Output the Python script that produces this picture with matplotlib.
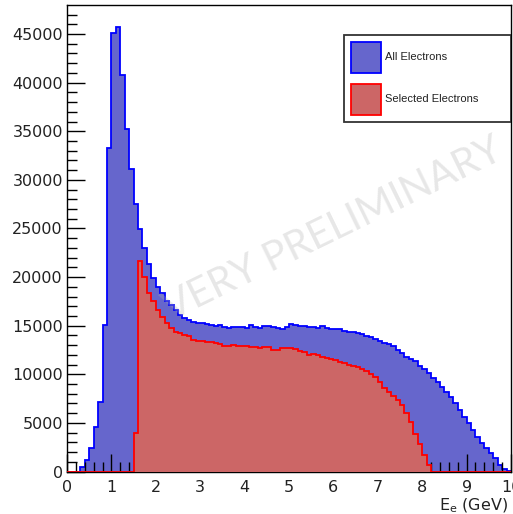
import numpy as np
import matplotlib.pyplot as plt
from matplotlib.patches import Rectangle

# electron energy spectrum, 100 bins of 0.1 GeV between 0 and 10 GeV
e_lo, e_hi, n_bins = 0.0, 10.0, 100

all_electrons = [0, 0, 0, 500, 1200, 2400, 4600, 7100, 15100, 33300,
                 45100, 45700, 40800, 35200, 31100, 27500, 24900, 23000, 21300, 19900,
                 19000, 18400, 17500, 17100, 16600, 16100, 15800, 15600, 15400, 15300,
                 15300, 15200, 15100, 15000, 15100, 14900, 14800, 14900, 14900, 14900,
                 14800, 15100, 14900, 14800, 15000, 15000, 14900, 14800, 14700, 14900,
                 15200, 15100, 15000, 15000, 14900, 14900, 14800, 15000, 14800, 14700,
                 14700, 14700, 14500, 14400, 14300, 14200, 14100, 13900, 13800, 13600,
                 13400, 13200, 13100, 12900, 12500, 12200, 11800, 11600, 11400, 10900,
                 10500, 10100, 9600, 9200, 8700, 8200, 7700, 7000, 6300, 5600,
                 5000, 4300, 3600, 2900, 2400, 1900, 1400, 700, 300, 100]

selected_electrons = [0, 0, 0, 0, 0, 0, 0, 0, 0, 0,
                      0, 0, 0, 0, 0, 4000, 21700, 20000, 18400, 17500,
                      16600, 15900, 15300, 14800, 14300, 14200, 14000, 13900, 13500, 13400,
                      13400, 13300, 13300, 13200, 13100, 12900, 12900, 13000, 12900, 12900,
                      12900, 12800, 12800, 12700, 12800, 12800, 12500, 12500, 12700, 12700,
                      12700, 12600, 12400, 12300, 12000, 12100, 12000, 11800, 11700, 11600,
                      11500, 11300, 11200, 11000, 10900, 10700, 10500, 10300, 10000, 9700,
                      9200, 8600, 8200, 7800, 7400, 6800, 6000, 5100, 3900, 2800,
                      1700, 700, 0, 0, 0, 0, 0, 0, 0, 0,
                      0, 0, 0, 0, 0, 0, 0, 0, 0, 0]

labels = ['All Electrons', 'Selected Electrons']
fill_colors = ['#6666cc', '#cc6666']
line_colors = ['#0000ff', '#ff0000']

edges = np.linspace(e_lo, e_hi, n_bins + 1)

fig = plt.figure(figsize=(5.13, 5.14), dpi=100)
ax = fig.add_axes([67 / 513, 42.5 / 514, 444 / 513, 466.5 / 514])

# blue sits under the axis ticks, red is drawn over them
for vals, fc, ec, z in zip([all_electrons, selected_electrons], fill_colors, line_colors, [1, 3]):
    ax.stairs(vals, edges, fill=True, facecolor=fc, edgecolor=ec, linewidth=1.3, zorder=z)

ax.set_xlim(0, 10)
ax.set_ylim(0, 1.05 * max(all_electrons))

ax.set_xticks(np.arange(0, 11, 1))
ax.set_xticks(np.arange(0, 10.01, 0.2), minor=True)
ax.set_yticks(np.arange(0, 45001, 5000))
ax.set_yticks(np.arange(0, 48000, 1000), minor=True)
ax.tick_params(which='both', direction='in', top=False, right=False, width=1,
               color='black', labelsize=11.5, labelcolor='#222222')
ax.tick_params(which='major', length=13)
ax.tick_params(which='minor', length=7)
ax.tick_params(axis='y', pad=3)
ax.tick_params(axis='x', pad=6)
for s in ax.spines.values():
    s.set_linewidth(1)
    s.set_color('black')

ax.text(0.994, -0.054, r'E$_{\mathregular{e}}$ (GeV)', transform=ax.transAxes,
        ha='right', va='top', fontsize=11.5, color='#222222')

# watermark
ax.text(0.6, 0.52, 'VERY PRELIMINARY', transform=ax.transAxes, rotation=26,
        ha='center', va='center', fontsize=29, family='Lato', weight='normal',
        color='#b0b0b0', alpha=0.3, zorder=5)

# legend box
lx0, lx1 = (344 - 67) / 444, 1.0
ly0, ly1 = (471.5 - 122) / 466.5, (471.5 - 35) / 466.5
ax.add_patch(Rectangle((lx0, ly0), lx1 - lx0, ly1 - ly0, transform=ax.transAxes,
                       facecolor='white', edgecolor='#333333', linewidth=1.3, zorder=6))
sw = 30 / 444
sh = 31 / 466.5
for k, (lab, fc, ec) in enumerate(zip(labels, fill_colors, line_colors)):
    cy = (471.5 - (57.5 + 42 * k)) / 466.5
    ax.add_patch(Rectangle(((351 - 67) / 444, cy - sh / 2), sw, sh, transform=ax.transAxes,
                           facecolor=fc, edgecolor=ec, linewidth=1.3, zorder=7))
    ax.text((385 - 67) / 444, cy, lab, transform=ax.transAxes, ha='left', va='center',
            fontsize=8, family='Liberation Sans', color='#222222', zorder=7)

fig.savefig('out.png', dpi=100)
